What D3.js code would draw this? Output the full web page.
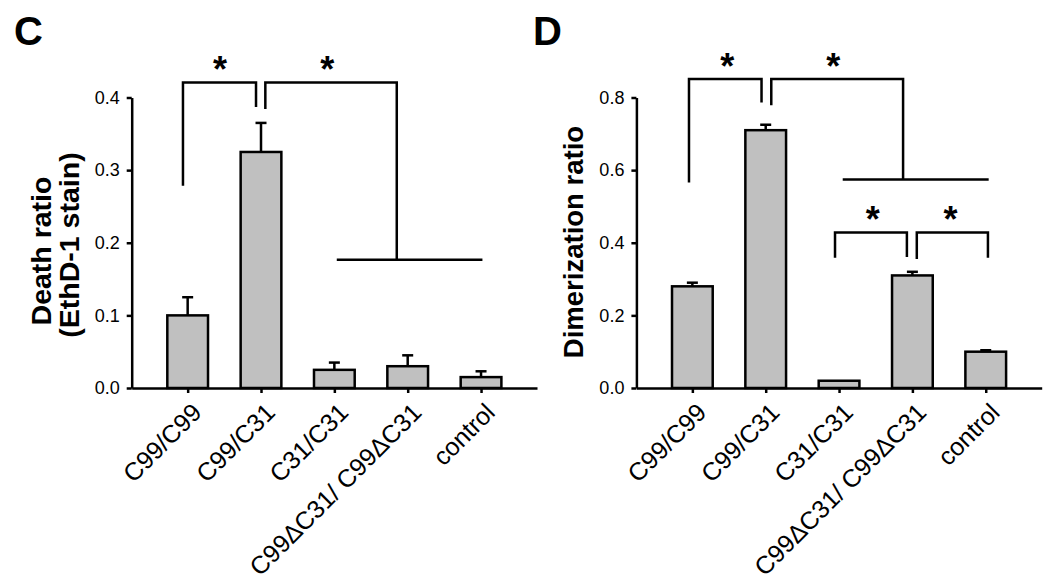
<!DOCTYPE html>
<html>
<head>
<meta charset="utf-8">
<script src="https://cdn.jsdelivr.net/npm/d3@7/dist/d3.min.js"></script>
<style>
  html, body { margin: 0; padding: 0; background: #fff; }
  svg { display: block; }
  text { font-family: Arial, "Liberation Sans", sans-serif; fill: #000; }
</style>
</head>
<body>
<svg id="chart" width="1050" height="584"></svg>
<script>
// ---------------- data ----------------
const categories = ["C99/C99", "C99/C31", "C31/C31", "C99\u0394C31/ C99\u0394C31", "control"];

const deathMean = [0.100, 0.325, 0.025, 0.030, 0.015];
const deathErr  = [0.025, 0.040, 0.010, 0.015, 0.008];
const deathTicks = [0.0, 0.1, 0.2, 0.3, 0.4];

const dimerMean = [0.28, 0.71, 0.02, 0.31, 0.10];
const dimerErr  = [0.010, 0.015, 0.000, 0.010, 0.004];
const dimerTicks = [0.0, 0.2, 0.4, 0.6, 0.8];

// significance brackets: points as [category index, value]
const deathBrackets = [
  [[-0.064, 0.2785], [-0.064, 0.4207], [0.932, 0.4207], [0.932, 0.387]],
  [[1.059, 0.384], [1.059, 0.4207], [2.851, 0.4207], [2.851, 0.1766]],
  [[2.033, 0.1766], [4.019, 0.1766]]
];
const deathStars = [[0.44, 0.448], [1.905, 0.448]];

const dimerBrackets = [
  [[-0.046, 0.566], [-0.046, 0.851], [0.943, 0.851], [0.943, 0.786]],
  [[1.076, 0.779], [1.076, 0.851], [2.873, 0.851], [2.873, 0.574]],
  [[2.05, 0.574], [4.04, 0.574]],
  [[1.945, 0.359], [1.945, 0.428], [2.925, 0.428], [2.925, 0.361]],
  [[3.06, 0.355], [3.06, 0.428], [4.03, 0.428], [4.03, 0.359]]
];
const dimerStars = [[0.476, 0.905], [1.92, 0.905], [2.46, 0.483], [3.52, 0.483]];

const panelLabels = ["C", "D"];
const deathTitle = ["Death ratio", "(EthD-1 stain)"];
const dimerTitle = ["Dimerization ratio"];

// ---------------- drawing ----------------
const svg = d3.select("#chart");
const SW = 2.5;

function panel(cfg) {
  const g = svg.append("g");
  const x = d3.scalePoint().domain(categories).range([cfg.x0, cfg.x1]).padding(0.763);
  const y = d3.scaleLinear().domain([0, cfg.ymax]).range([cfg.yb, cfg.yt]);
  const xi = d3.scaleLinear().domain([0, categories.length - 1])
    .range([x(categories[0]), x(categories[categories.length - 1])]);
  const bw = x.step() * 0.555;

  // bars
  g.selectAll("rect.bar").data(cfg.mean).join("rect")
    .attr("class", "bar")
    .attr("x", (d, i) => x(categories[i]) - bw / 2)
    .attr("width", bw)
    .attr("y", d => y(d))
    .attr("height", d => y(0) - y(d))
    .attr("fill", "#c0c0c0")
    .attr("stroke", "#000")
    .attr("stroke-width", SW);

  // error bars (upper only)
  const capW = 11;
  cfg.err.forEach((e, i) => {
    if (e <= 0) return;
    const cx = x(categories[i]);
    const top = y(cfg.mean[i] + e);
    g.append("line").attr("x1", cx).attr("x2", cx)
      .attr("y1", y(cfg.mean[i])).attr("y2", top)
      .attr("stroke", "#000").attr("stroke-width", SW);
    g.append("line").attr("x1", cx - capW / 2).attr("x2", cx + capW / 2)
      .attr("y1", top).attr("y2", top)
      .attr("stroke", "#000").attr("stroke-width", SW);
  });

  // axes
  const yAxis = g.append("g")
    .attr("transform", `translate(${cfg.x0},0)`)
    .call(d3.axisLeft(y).tickValues(cfg.ticks).tickFormat(d3.format(".1f"))
      .tickSize(5).tickSizeOuter(0).tickPadding(7));
  yAxis.select(".domain").attr("stroke-width", SW);
  yAxis.selectAll(".tick line").attr("stroke-width", SW);
  yAxis.selectAll(".tick text").style("font-size", "18px")
    .style("font-family", "Arial, 'Liberation Sans', sans-serif");

  const xAxis = g.append("g")
    .attr("transform", `translate(0,${cfg.yb})`)
    .call(d3.axisBottom(x).tickSize(5).tickSizeOuter(0));
  xAxis.select(".domain").attr("stroke-width", SW);
  xAxis.selectAll(".tick line").attr("stroke-width", SW);
  xAxis.selectAll(".tick text")
    .attr("x", 0).attr("y", 0).attr("dy", 0)
    .attr("transform", "translate(15,26) rotate(-45)")
    .style("text-anchor", "end")
    .style("font-size", "25px")
    .style("font-family", "Arial, 'Liberation Sans', sans-serif");

  // brackets
  const line = d3.line().x(p => xi(p[0])).y(p => y(p[1]));
  g.selectAll("path.br").data(cfg.brackets).join("path")
    .attr("class", "br")
    .attr("d", line)
    .attr("fill", "none")
    .attr("stroke", "#000")
    .attr("stroke-width", SW);

  g.selectAll("text.star").data(cfg.stars).join("text")
    .attr("class", "star")
    .attr("x", p => xi(p[0]))
    .attr("y", p => y(p[1]))
    .attr("dy", "0.55em")
    .attr("text-anchor", "middle")
    .style("font-size", "36px")
    .style("font-weight", "bold")
    .text("*");

  // y title
  cfg.title.forEach((t, k) => {
    g.append("text")
      .attr("transform", `translate(${cfg.titleX[k]},${cfg.titleY[k]}) rotate(-90)`)
      .attr("text-anchor", "middle")
      .style("font-size", cfg.titleSize + "px")
      .style("font-weight", "bold")
      .text(t);
  });

  // panel label
  g.append("text")
    .attr("x", cfg.labelX).attr("y", 45)
    .style("font-size", "40px")
    .style("font-weight", "bold")
    .text(cfg.label);
}

panel({
  x0: 131.7, x1: 537, yb: 388, yt: 97.5, ymax: 0.4,
  mean: deathMean, err: deathErr, ticks: deathTicks,
  brackets: deathBrackets, stars: deathStars,
  title: deathTitle, titleX: [51, 79], titleY: [251, 245], titleSize: 28.5,
  label: panelLabels[0], labelX: 14
});

panel({
  x0: 636.4, x1: 1041.7, yb: 388, yt: 97.5, ymax: 0.8,
  mean: dimerMean, err: dimerErr, ticks: dimerTicks,
  brackets: dimerBrackets, stars: dimerStars,
  title: dimerTitle, titleX: [583], titleY: [242], titleSize: 27.5,
  label: panelLabels[1], labelX: 533
});
</script>
</body>
</html>
